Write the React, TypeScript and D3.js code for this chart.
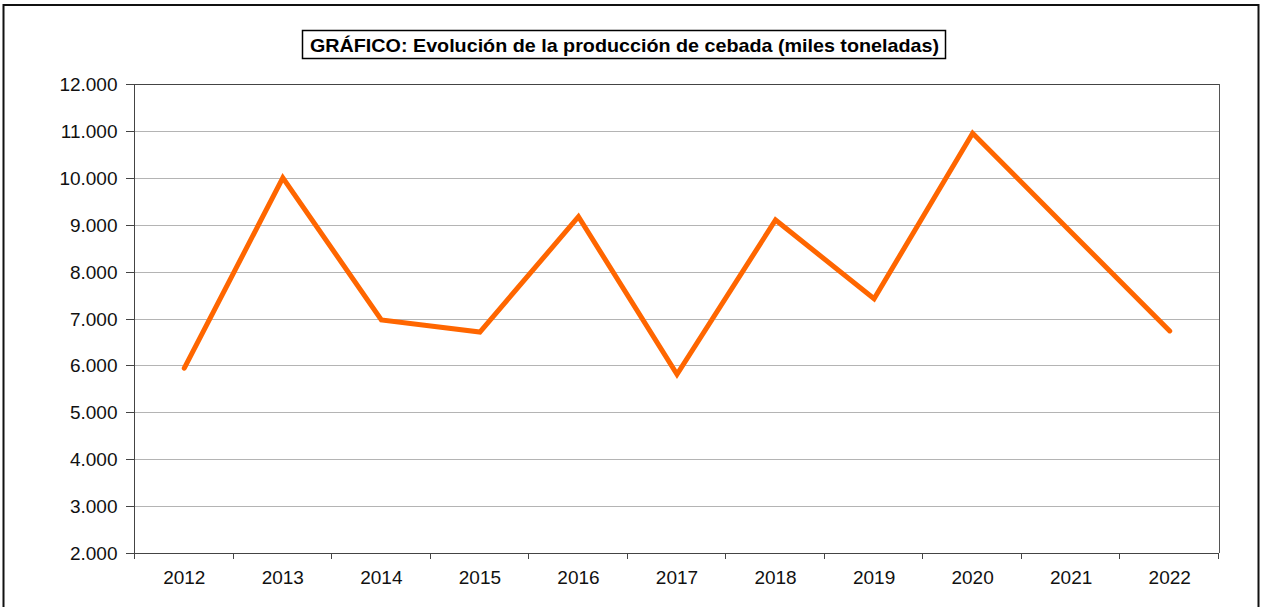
import React from "react";
import * as d3 from "d3";

// datos (miles de toneladas)
const years = ["2012", "2013", "2014", "2015", "2016", "2017", "2018", "2019", "2020", "2021", "2022"];
const production = [5940, 10000, 6970, 6710, 9170, 5810, 9100, 7420, 10950, 8840, 6735];
const yTicks = [2000, 3000, 4000, 5000, 6000, 7000, 8000, 9000, 10000, 11000, 12000];
const title = "GRÁFICO: Evolución de la producción de cebada (miles toneladas)";

const W = 1261;
const H = 607;
const margin = { top: 84, right: 42, bottom: 54, left: 135 };
const font = "'Liberation Sans', Arial, sans-serif";

const esFormat = d3.formatLocale({ decimal: ",", thousands: ".", grouping: [3], currency: ["", " €"] }).format(",d");

export default function App() {
  const innerW = W - margin.left - margin.right;
  const innerH = H - margin.top - margin.bottom;

  const x = d3.scaleBand<string>().domain(years).range([0, innerW]).paddingInner(0).paddingOuter(0);
  const y = d3.scaleLinear().domain([2000, 12000]).range([innerH, 0]);

  const line = d3
    .line<number>()
    .x((_, i) => (x(years[i]) as number) + x.bandwidth() / 2)
    .y((d) => y(d));

  // separadores de categoría en el eje X
  const boundaries = years.map((yr) => x(yr) as number).concat([innerW]);

  return (
    <div style={{ position: "absolute", left: 0, top: 0 }}>
      <svg width={W} height={H} style={{ display: "block", background: "#fff" }}>
        <rect x={3.5} y={5} width={1255} height={610} fill="#fff" stroke="#111" strokeWidth={2} />

        {/* título */}
        <rect x={302.5} y={30.5} width={643} height={28} fill="#fff" stroke="#000" strokeWidth={1.5} />
        <text
          x={310}
          y={51.5}
          fontFamily={font}
          fontWeight="bold"
          fontSize={19}
          fill="#000"
          textLength={629}
          lengthAdjust="spacingAndGlyphs"
        >
          {title}
        </text>

        <g transform={`translate(${margin.left},${margin.top})`}>
          {/* rejilla */}
          {yTicks.map((t) => (
            <line key={"g" + t} x1={0} x2={innerW} y1={Math.round(y(t)) + 0.5} y2={Math.round(y(t)) + 0.5} stroke="#b4b4b4" strokeWidth={1} />
          ))}
          {/* borde del área de trazado */}
          <line x1={0} x2={innerW} y1={0.5} y2={0.5} stroke="#444" strokeWidth={1} />
          <line x1={innerW + 0.5} x2={innerW + 0.5} y1={0} y2={innerH} stroke="#555" strokeWidth={1} />

          {/* eje Y */}
          <line x1={-0.5} x2={-0.5} y1={0} y2={innerH} stroke="#444" strokeWidth={1} />
          {yTicks.map((t) => (
            <g key={"y" + t} transform={`translate(0,${Math.round(y(t)) + 0.5})`}>
              <line x1={-9} x2={0} stroke="#444" strokeWidth={1} />
              <text x={-17.5} dy="0.36em" textAnchor="end" fontFamily={font} fontSize={19} fill="#111">
                {esFormat(t)}
              </text>
            </g>
          ))}

          {/* eje X */}
          <line x1={0} x2={innerW} y1={innerH + 0.5} y2={innerH + 0.5} stroke="#444" strokeWidth={1} />
          {boundaries.map((b, i) => (
            <line key={"xt" + i} x1={Math.round(b) - 0.5} x2={Math.round(b) - 0.5} y1={innerH} y2={innerH + 6} stroke="#444" strokeWidth={1} />
          ))}
          {years.map((yr) => (
            <text
              key={"x" + yr}
              x={(x(yr) as number) + x.bandwidth() / 2}
              y={innerH + 31}
              textAnchor="middle"
              fontFamily={font}
              fontSize={19}
              fill="#111"
            >
              {yr}
            </text>
          ))}

          {/* serie */}
          <path
            d={line(production) || ""}
            fill="none"
            stroke="#ff6600"
            strokeWidth={5}
            strokeLinejoin="miter"
            strokeLinecap="round"
          />
        </g>
      </svg>
    </div>
  );
}
